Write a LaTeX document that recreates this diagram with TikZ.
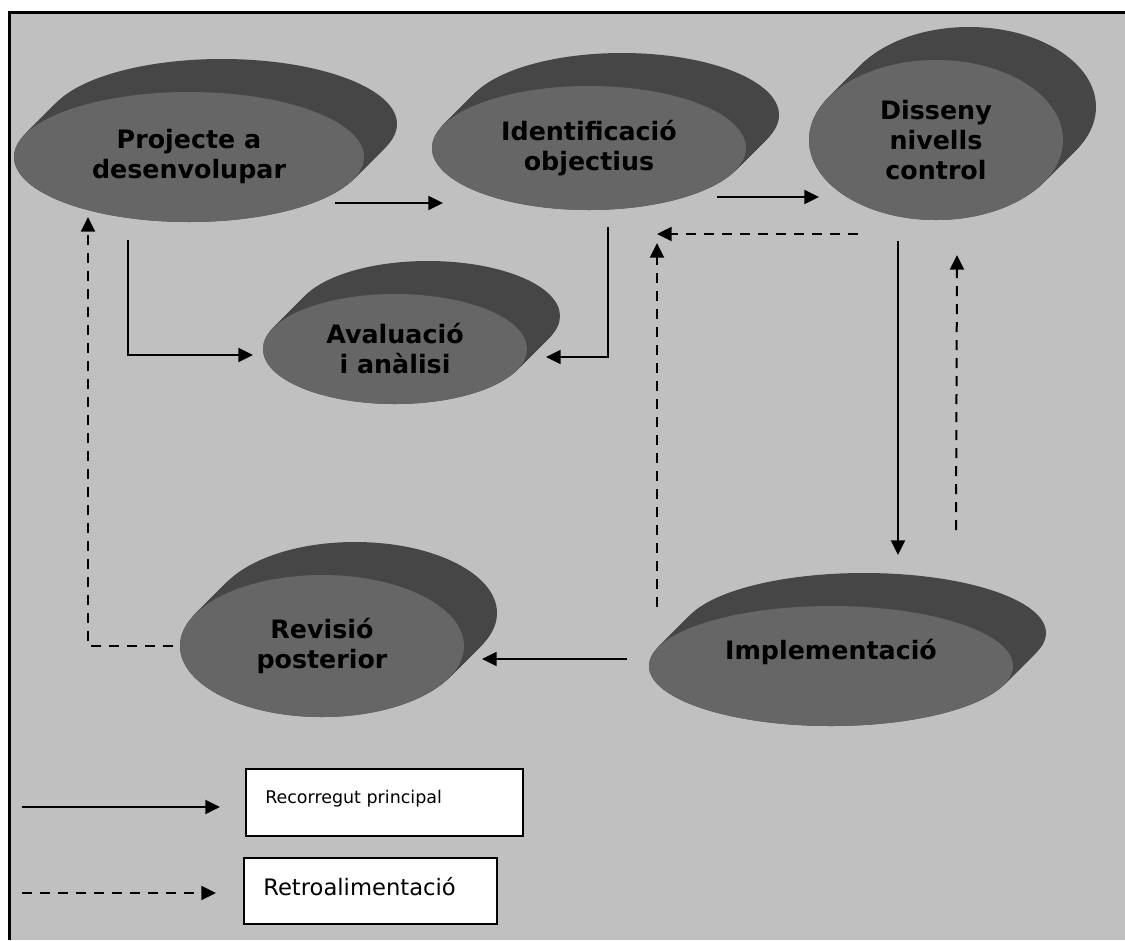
\documentclass[tikz,border=0pt]{standalone}
\usepackage{fontspec}
\setmainfont{DejaVu Sans}
\usetikzlibrary{arrows.meta,shapes.geometric,calc}

\definecolor{panel}{HTML}{C0C0C0}
\definecolor{discfront}{HTML}{666666}
\definecolor{discside}{HTML}{464646}

\tikzset{
  flow/.style={line width=1.5pt, -{Triangle[length=11pt,width=10.5pt]}},
  feedback/.style={flow, dash pattern=on 7.5pt off 6pt},
  disclabel/.style={ellipse, fill=discfront, inner sep=0pt, align=center,
    font=\fontsize{19}{22.5}\selectfont\bfseries},
  legendbox/.style={draw=black, line width=0.9pt, fill=white, inner sep=0pt},
}

% extruded disc: a stack of dark ellipses receding up-right, the front face as a named node
% #1 name, #2 x, #3 y, #4 x radius, #5 y radius, #6 label
\newcommand\extrudeddisc[6]{%
  \foreach \k in {0,...,33}{\fill[discside] (#2+\k,#3-\k) ellipse [x radius=#4, y radius=#5];}
  \node[disclabel, minimum width=#4*1.5pt, minimum height=#5*1.5pt] (#1) at (#2,#3) {#6};
}

\begin{document}
\begin{tikzpicture}[x=0.75pt, y=-0.75pt]
\useasboundingbox (0,0) rectangle (1125,940);

% page and framed panel
\fill[white] (0,0) rectangle (1125,940);
\fill[panel] (9,12) rectangle (1125,940);
\draw[line width=1.8pt] (9.5,940) -- (9.5,12.5) -- (1125,12.5);

% stages
\extrudeddisc{proj}{189}{157}{175}{65}{Projecte a\\desenvolupar}
\extrudeddisc{ident}{589}{148}{157}{62}{Identificació\\objectius}
\extrudeddisc{disseny}{936}{140}{127}{80}{Disseny\\nivells\\control}
\extrudeddisc{aval}{395}{349}{132}{55}{Avaluació\\i anàlisi}
\extrudeddisc{revisio}{322}{646}{142}{71}{Revisió\\posterior}
\extrudeddisc{impl}{831}{666}{182}{60}{Implementació\\[3pt]\mbox{}}

% connector end points
\coordinate (projOut) at (335,203);
\coordinate (identIn) at (443,203);
\coordinate (identOut) at (717,197);
\coordinate (dissenyIn) at (819,197);
\coordinate (projDown) at (128,240);
\coordinate (avalInL) at (253,355);
\coordinate (identDown) at (608,227);
\coordinate (avalInR) at (546,357);
\coordinate (dissenyDown) at (898,241);
\coordinate (implIn) at (898,555);
\coordinate (implUpR) at (956,530);
\coordinate (dissenyBack) at (957,255);
\coordinate (dissenyLeft) at (858,234);
\coordinate (identBackH) at (657,234);
\coordinate (implUpL) at (657,607);
\coordinate (identBackV) at (657,243);
\coordinate (implOut) at (627,659);
\coordinate (revisioIn) at (482,659);
\coordinate (revisioOut) at (173,646);
\coordinate (projBack) at (88,217);

% main path
\draw[flow] (projOut) -- (identIn);
\draw[flow] (identOut) -- (dissenyIn);
\draw[flow] (projDown) |- (avalInL);
\draw[flow] (identDown) |- (avalInR);
\draw[flow] (dissenyDown) -- (implIn);
\draw[flow] (implOut) -- (revisioIn);

% feedback
\draw[feedback] (implUpR) -- (dissenyBack);
\draw[feedback] (dissenyLeft) -- (identBackH);
\draw[feedback] (implUpL) -- (identBackV);
\draw[feedback] (revisioOut) -| (projBack);

% legend
\coordinate (keyA1) at (22,807);
\coordinate (keyA2) at (220,807);
\coordinate (keyB1) at (22,893);
\coordinate (keyB2) at (216,893);
\draw[flow] (keyA1) -- (keyA2);
\draw[feedback] (keyB1) -- (keyB2);
\node[legendbox, minimum width=207.75pt, minimum height=50.25pt] (keyMain) at (384.5,802.5) {};
\node[legendbox, minimum width=189.75pt, minimum height=49.5pt] (keyFeed) at (370.5,891) {};
\node[anchor=base west, inner sep=0pt, font=\fontsize{13.1}{15}\selectfont] (keyMainText) at (265,803) {Recorregut principal};
\node[anchor=base west, inner sep=0pt, font=\fontsize{17}{20}\selectfont] (keyFeedText) at (263,895) {Retroalimentació};
\end{tikzpicture}
\end{document}
